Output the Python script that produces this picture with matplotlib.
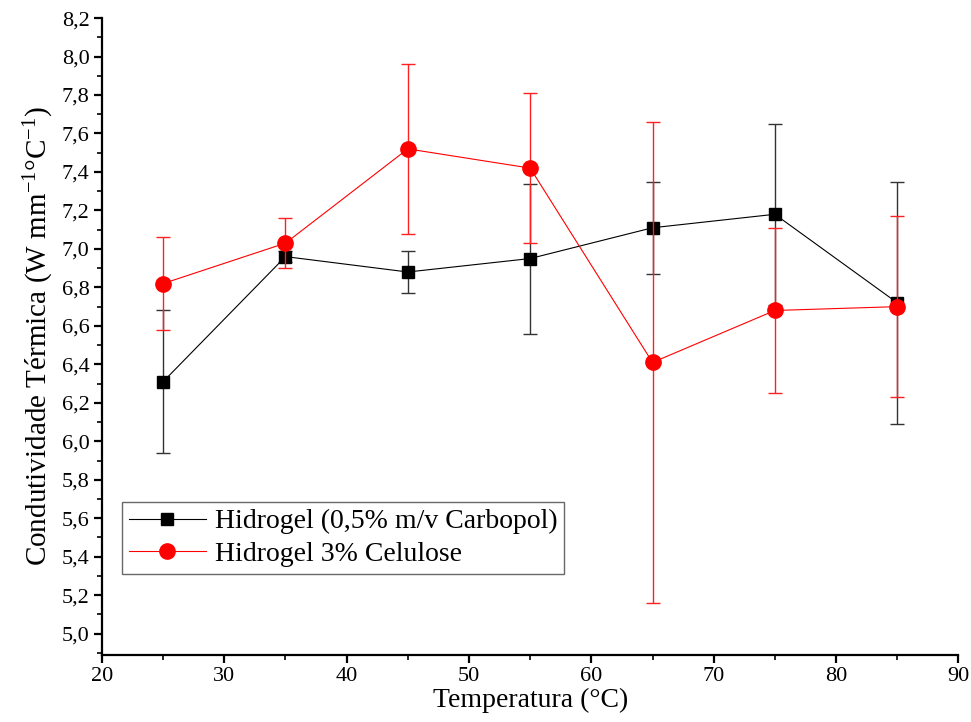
import matplotlib
matplotlib.use("Agg")
import matplotlib.pyplot as plt
from matplotlib.lines import Line2D
from matplotlib.ticker import MultipleLocator, FuncFormatter

plt.rcParams['font.family'] = ['Liberation Serif', 'DejaVu Serif']
plt.rcParams['mathtext.fontset'] = 'custom'
plt.rcParams['mathtext.rm'] = 'Liberation Serif'
plt.rcParams['mathtext.default'] = 'regular'

temperature = [25, 35, 45, 55, 65, 75, 85]

carbopol = [6.31, 6.96, 6.88, 6.95, 7.11, 7.18, 6.72]
carbopol_err = [0.37, 0.03, 0.11, 0.39, 0.24, 0.47, 0.63]

celulose = [6.82, 7.03, 7.52, 7.42, 6.41, 6.68, 6.70]
celulose_err = [0.24, 0.13, 0.44, 0.39, 1.25, 0.43, 0.47]

label_carbopol = "Hidrogel (0,5% m/v Carbopol)"
label_celulose = "Hidrogel 3% Celulose"

fig = plt.figure(figsize=(9.71, 7.22), dpi=100)
ax = fig.add_axes([0.105, 0.093, 0.882, 0.882])

ax.errorbar(temperature, carbopol, yerr=carbopol_err, color='black',
            marker='s', markersize=9, linewidth=0.8, elinewidth=1.0,
            capsize=5, capthick=1.0, ecolor='#333333', zorder=2)
ax.errorbar(temperature, celulose, yerr=celulose_err, color='#ff0000',
            marker='o', markersize=11, linewidth=0.8, elinewidth=1.0,
            capsize=5, capthick=1.0, ecolor='#ff2020', zorder=3)

ax.set_xlim(20, 90)
ax.set_ylim(4.89, 8.2)
ax.xaxis.set_major_locator(MultipleLocator(10))
ax.xaxis.set_minor_locator(MultipleLocator(5))
ax.yaxis.set_minor_locator(MultipleLocator(0.1))
ax.set_yticks([5.0 + 0.2 * i for i in range(17)])
ax.yaxis.set_major_formatter(FuncFormatter(lambda v, p: f"{v:.1f}".replace('.', ',')))

for side in ('top', 'right'):
    ax.spines[side].set_visible(False)
for side in ('left', 'bottom'):
    ax.spines[side].set_linewidth(1.6)

ax.tick_params(which='major', direction='out', length=6, width=1.6,
               labelsize=16, pad=3)
ax.tick_params(which='minor', direction='out', length=3.5, width=1.2)

ax.set_xlabel("Temperatura (°C)", fontsize=20, labelpad=1)
ax.set_ylabel("Condutividade Térmica (W mm$^{-1}$°C$^{-1}$)", fontsize=21,
              labelpad=4)

handles = [
    Line2D([], [], color='black', marker='s', markersize=9, linewidth=0.8),
    Line2D([], [], color='#ff0000', marker='o', markersize=11, linewidth=0.8),
]
leg = ax.legend(handles, [label_carbopol, label_celulose], loc='upper left',
                bbox_to_anchor=(0.023, 0.24), borderaxespad=0, fontsize=20,
                frameon=True, fancybox=False, handlelength=2.8,
                handletextpad=0.3, borderpad=0.25, labelspacing=0.25)
leg.get_frame().set_edgecolor('#444444')
leg.get_frame().set_linewidth(1.0)

fig.savefig("out.png", dpi=100)
